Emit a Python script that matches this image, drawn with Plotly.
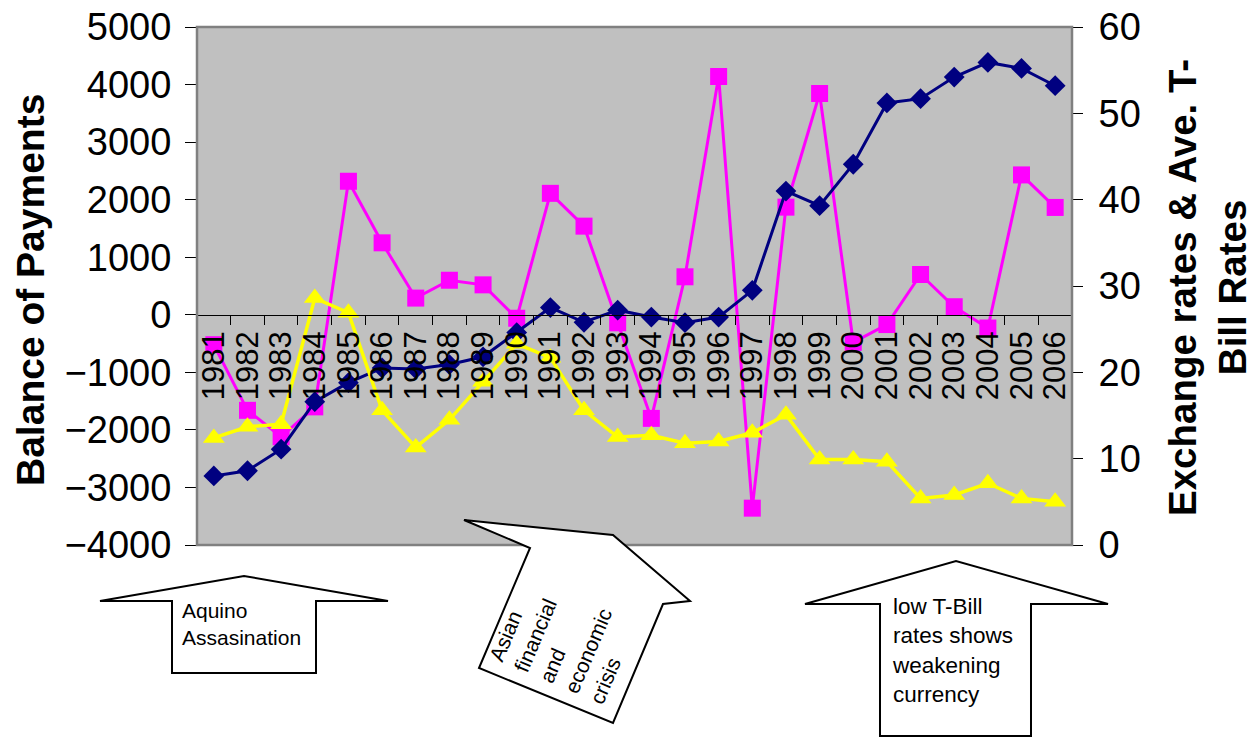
import plotly.graph_objects as go

years = [str(y) for y in range(1981, 2007)]
balance_of_payments = [-520, -1660, -2120, -1600, 2320, 1250, 290, 600, 520, -60,
                       2110, 1540, -140, -1800, 660, 4140, -3360, 1870, 3845, -480,
                       -170, 700, 140, -230, 2430, 1865]
exchange_rate = [8.0, 8.6, 11.1, 16.6, 18.8, 20.5, 20.4, 20.9, 21.8, 24.6,
                 27.5, 25.8, 27.2, 26.4, 25.75, 26.4, 29.5, 41.0, 39.3, 44.1,
                 51.2, 51.7, 54.2, 55.9, 55.2, 53.2]
tbill_rate = [12.4, 13.7, 14.0, 28.6, 26.9, 15.6, 11.3, 14.5, 18.9, 23.3,
              21.7, 15.6, 12.5, 12.7, 11.8, 12.0, 13.0, 15.1, 9.9, 9.9,
              9.65, 5.4, 5.8, 7.15, 5.4, 5.0]
left_ticks = [-4000, -3000, -2000, -1000, 0, 1000, 2000, 3000, 4000, 5000]
right_ticks = [0, 10, 20, 30, 40, 50, 60]

FONT = "Liberation Sans, Arial, Helvetica, sans-serif"
W, H = 1253, 737
L, R, T, B = 197, 181, 27, 192
PW, PH = W - L - R, H - T - B


def px(x, y):
    return (x - L) / PW, (H - B - y) / PH


def poly(points):
    d = ""
    for i, (x, y) in enumerate(points):
        a, b = px(x, y)
        d += ("M" if i == 0 else "L") + f"{a:.5f},{b:.5f} "
    return d + "Z"


fig = go.Figure()
fig.add_trace(go.Scatter(x=years, y=balance_of_payments, mode="lines+markers",
                         line=dict(color="#FF00FF", width=3),
                         marker=dict(symbol="square", size=17, color="#FF00FF"),
                         xaxis="x", yaxis="y", showlegend=False))
fig.add_trace(go.Scatter(x=years, y=exchange_rate, mode="lines+markers",
                         line=dict(color="#000080", width=3),
                         marker=dict(symbol="diamond", size=16, color="#000080"),
                         xaxis="x", yaxis="y2", showlegend=False))
fig.add_trace(go.Scatter(x=years, y=tbill_rate, mode="lines+markers",
                         line=dict(color="#FFFF00", width=3.5),
                         marker=dict(symbol="triangle-up", size=19, color="#FFFF00"),
                         xaxis="x", yaxis="y2", showlegend=False))

zero_pos = (0 - left_ticks[0]) / (left_ticks[-1] - left_ticks[0])

fig.update_layout(
    width=W, height=H,
    margin=dict(l=L, r=R, t=T, b=B, pad=0, autoexpand=False),
    paper_bgcolor="white", plot_bgcolor="#C0C0C0",
    font=dict(family=FONT, color="black"),
    xaxis=dict(type="category", categoryorder="array", categoryarray=years,
               tickmode="array", tickvals=years, ticktext=years,
               range=[-0.5, len(years) - 0.5], anchor="free", position=zero_pos,
               showline=True, linecolor="black", linewidth=1, automargin=False,
               ticks="outside", ticklen=9, tickcolor="black", tickwidth=1,
               tickson="boundaries", tickangle=-90, ticklabelstandoff=3,
               tickfont=dict(size=31, family=FONT), showgrid=False, zeroline=False),
    xaxis2=dict(overlaying="x", side="top", anchor="free", position=zero_pos,
                range=[-0.5, len(years) - 0.5], tickmode="linear", tick0=-0.5, dtick=1,
                ticks="outside", ticklen=9, tickcolor="black", tickwidth=1, automargin=False,
                showticklabels=False, showline=False, showgrid=False, zeroline=False),
    yaxis=dict(range=[left_ticks[0], left_ticks[-1]], tickvals=left_ticks,
               anchor="free", position=0, side="left", automargin=False,
               ticks="outside", ticklen=12, tickcolor="black", tickwidth=1,
               ticklabelstandoff=6,
               tickfont=dict(size=38, family=FONT), showgrid=False, zeroline=False,
               showline=False),
    yaxis2=dict(range=[right_ticks[0], right_ticks[-1]], tickvals=right_ticks,
                overlaying="y", side="right", anchor="free", position=1, automargin=False,
                ticks="outside", ticklen=10, tickcolor="black", tickwidth=1,
                ticklabelstandoff=8,
                tickfont=dict(size=38, family=FONT), showgrid=False, zeroline=False,
                showline=False),
    yaxis3=dict(range=[left_ticks[0], left_ticks[-1]], tickvals=left_ticks,
                overlaying="y", side="left", anchor="free", position=0, automargin=False,
                ticks="inside", ticklen=12, tickcolor="black", tickwidth=1,
                showticklabels=False, showgrid=False, zeroline=False, showline=False),
    yaxis4=dict(range=[right_ticks[0], right_ticks[-1]], tickvals=right_ticks,
                overlaying="y", side="right", anchor="free", position=1, automargin=False,
                ticks="inside", ticklen=12, tickcolor="black", tickwidth=1,
                showticklabels=False, showgrid=False, zeroline=False, showline=False),
)

shapes = [
    dict(type="rect", xref="paper", yref="paper", x0=0, x1=1, y0=0, y1=1,
         line=dict(color="#808080", width=2.5), fillcolor="rgba(0,0,0,0)", layer="above"),
    # Aquino arrow
    dict(type="path", xref="paper", yref="paper",
         path=poly([(100, 601), (244, 576), (388, 601), (316, 601), (316, 673),
                    (172, 673), (172, 601)]),
         line=dict(color="black", width=2), fillcolor="white", layer="above"),
    # Asian crisis arrow (tilted)
    dict(type="path", xref="paper", yref="paper",
         path=poly([(464, 520), (613, 535), (690, 601), (663, 604), (613, 723),
                    (479, 668), (530, 548)]),
         line=dict(color="black", width=2), fillcolor="white", layer="above"),
    # low T-Bill arrow
    dict(type="path", xref="paper", yref="paper",
         path=poly([(805, 604), (956, 561), (1108, 604), (1031, 604), (1031, 736),
                    (880, 736), (880, 604)]),
         line=dict(color="black", width=2), fillcolor="white", layer="above"),
]
fig.update_layout(shapes=shapes)

annotations = []
ax, ay = px(30, 290)
annotations.append(dict(text="<b>Balance of Payments</b>", x=ax, y=ay, xref="paper", yref="paper",
                        textangle=-90, showarrow=False, font=dict(size=39, family=FONT),
                        xanchor="center", yanchor="middle"))
ax, ay = px(1207, 288)
annotations.append(dict(text="<b>Exchange rates & Ave. T-<br>Bill Rates</b>", x=ax, y=ay,
                        xref="paper", yref="paper", textangle=-90, showarrow=False,
                        borderpad=0,
                        font=dict(size=38.5, family=FONT), xanchor="center", yanchor="middle"))
ax, ay = px(180, 624)
annotations.append(dict(text="Aquino<br>Assasination", x=ax, y=ay, xref="paper", yref="paper",
                        showarrow=False, align="left", xanchor="left", yanchor="middle",
                        font=dict(size=21, family=FONT)))
ax, ay = px(563, 640)
annotations.append(dict(text="Asian<br>financial<br>and<br>economic<br>crisis", x=ax, y=ay,
                        xref="paper", yref="paper", showarrow=False, align="left",
                        textangle=-67, xanchor="center", yanchor="middle",
                        font=dict(size=21, family=FONT)))
ax, ay = px(890, 650)
annotations.append(dict(text="low T-Bill<br>rates shows<br>weakening<br>currency", x=ax, y=ay,
                        xref="paper", yref="paper", showarrow=False, align="left",
                        xanchor="left", yanchor="middle", font=dict(size=22.5, family=FONT)))
fig.update_layout(annotations=annotations)

fig.write_html("out.html", config={"displayModeBar": False},
               post_script="document.body.style.margin='0';")
